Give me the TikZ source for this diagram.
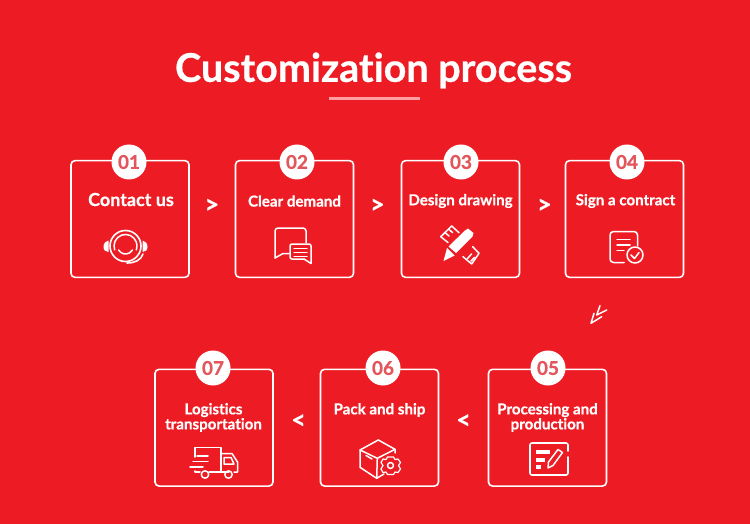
\documentclass[tikz,border=0pt]{standalone}
\usepackage{fontspec}
\setmainfont[Ligatures=NoCommon, BoldFeatures={FakeBold=0.6}]{Lato}
\usepackage{tikz}
\usetikzlibrary{arrows.meta, positioning}
\definecolor{bgred}{HTML}{ED1C24}
\definecolor{numred}{HTML}{E2565C}
\definecolor{barpink}{HTML}{FF9EA2}

\begin{document}
\begin{tikzpicture}[
    x=1pt, y=-1pt,
    font=\bfseries,
    stepbox/.style={rectangle, rounded corners=4pt, draw=white, line width=1.6pt,
      minimum width=118pt, minimum height=116.7pt, inner sep=0pt},
    numdot/.style={circle, fill=white, text=numred, minimum size=35pt, inner sep=0pt,
      font=\bfseries\fontsize{19}{19}\selectfont},
    steptext/.style={text=white, align=center, inner sep=0pt,
      font=\bfseries\fontsize{15.1}{15}\selectfont},
    chev/.style={text=white, inner sep=0pt, font=\bfseries\fontsize{25}{25}\selectfont},
    ico/.style={draw=white, line width=1.5pt, line join=round, line cap=round},
  ]
  \fill[bgred] (0,0) rectangle (750,524);

  \node[text=white, inner sep=0pt, font=\bfseries\fontsize{39.5}{39}\selectfont] (title) at (373.5,70.5) {Customization process};
  \fill[barpink] (329,97) rectangle (420,100);

  % upper row
  \node[stepbox] (box1) at (130,219) {};
  \node[stepbox] (box2) at (294.5,219) {};
  \node[stepbox] (box3) at (460.5,219) {};
  \node[stepbox] (box4) at (624.5,219) {};
  % lower row
  \node[stepbox] (box7) at (214,427.7) {};
  \node[stepbox] (box6) at (379.5,427.7) {};
  \node[stepbox] (box5) at (547.5,427.7) {};

  \node[numdot] (num1) at (129,162) {01};
  \node[numdot] (num2) at (297,162) {02};
  \node[numdot] (num3) at (461,162) {03};
  \node[numdot] (num4) at (627,162) {04};
  \node[numdot] (num5) at (548,368) {05};
  \node[numdot] (num6) at (383,368) {06};
  \node[numdot] (num7) at (213,368) {07};

  \node[steptext, font=\bfseries\fontsize{18}{18}\selectfont] (txt1) at (131,199.5) {Contact us};
  \node[steptext] (txt2) at (294.5,201) {Clear demand};
  \node[steptext] (txt3) at (460.5,201) {Design drawing};
  \node[steptext] (txt4) at (625.5,201) {Sign a contract};
  \node[steptext] (txt5) at (547.5,417.5) {Processing and\\production};
  \node[steptext] (txt6) at (379.5,410) {Pack and ship};
  \node[steptext] (txt7) at (213.5,417.5) {Logistics\\transportation};

  \node[chev] (gt1) at (212,206) {>};
  \node[chev] (gt2) at (377.5,206) {>};
  \node[chev] (gt3) at (544.5,206) {>};
  \node[chev] (lt1) at (298.5,421.5) {<};
  \node[chev] (lt2) at (463.5,421.5) {<};

  % double chevron
  \draw[ico] (601.7,316.7) -- (591,323.3) -- (594,313.3);
  \draw[ico] (606.7,310) -- (596.7,315) -- (600,305.7);

  % headset
  \draw[ico, line width=1.6pt] (125.5,246) circle (15.5);
  \draw[ico] (114.7,249.9) arc (160:380:11.5);
  \draw[ico] (118.6,250) arc (150:30:8);
  \fill[white] (103.5,247) .. controls (103.5,243) and (106,241) .. (108.5,240.5) -- (108.5,252) .. controls (106,252) and (103.5,250.5) .. (103.5,247) -- cycle;
  \fill[white] (147.5,247) .. controls (147.5,243) and (145,241) .. (142.5,240.5) -- (142.5,252) .. controls (145,252) and (147.5,250.5) .. (147.5,247) -- cycle;
  \draw[ico, line width=1.6pt] (143,254) .. controls (141,260) and (135,263) .. (127,263);

  % chat bubbles
  \draw[ico, rounded corners=3pt] (306,243) -- (306,228) -- (275,228) -- (275,258);
  \draw[ico] (275,258) -- (283,253.5) -- (289,253.5);
  \draw[ico, rounded corners=2pt] (311,252) -- (311,244) -- (290,244) -- (290,259) -- (304,259);
  \draw[ico] (304,259) -- (311,263.5) -- (311,252);
  \draw[ico] (294,248.5) -- (307,248.5) (294,252.5) -- (307,252.5) (294,256.5) -- (307,256.5);

  % pencil and rulers
  \fill[white] (448.5,246.5) -- (465,230.5) -- (468,228.5) -- (473.5,233) -- (472.5,236.5) -- (456,253) -- cycle;
  \fill[white] (447,248) -- (454.5,255.5) -- (443.5,261) -- cycle;
  \draw[ico] (448,242.5) -- (440.7,236.7) -- (451.7,226) -- (459,232.7);
  \draw[ico] (445.5,233) -- (449,236) (449,229.5) -- (452.5,232.5);
  \draw[ico] (472.7,246.7) -- (479,253.3) -- (471.7,264) -- (463,256.7);
  \draw[ico] (471.5,254) -- (467.5,258.5) (474.5,257.5) -- (471,261);

  % contract
  \draw[ico, rounded corners=3.5pt] (637.5,246) -- (637.5,231.5) -- (610,231.5) -- (610,262.5) -- (624,262.5);
  \draw[ico] (617,239.5) -- (630,239.5) (617,245) -- (630,245) (617,250.5) -- (624,250.5);
  \draw[ico] (635,255) circle (8);
  \draw[ico] (631,255) -- (634.5,258.5) -- (639,252.5);

  % screen with pen
  \draw[ico, line width=1.6pt, rounded corners=2pt] (568,457) -- (568,475) -- (530,475) -- (530,443) -- (568,443) -- (568,451);
  \fill[white] (536,450) rectangle (550,454);
  \fill[white] (536,457.5) rectangle (545,461.5);
  \fill[white] (536,465) rectangle (540.5,469);
  \draw[ico] (548,468) -- (548.5,462) -- (558,449.5) -- (562.5,452.5) -- (553,465.5) -- cycle;

  % parcel with gear
  \draw[ico] (378.3,440) -- (360,450) -- (360,467.3) -- (376.7,478.3) -- (384,474);
  \draw[ico] (378.3,440) -- (395,449.3) -- (395,453);
  \draw[ico] (360,450) -- (377.3,458.3) -- (395,449.3) (377.3,458.3) -- (376.7,478.3);
  \draw[ico] (366,455.5) -- (372,459);
  \draw[ico] (390.5,465.5) circle (3);
  \draw[ico, line width=1.2pt] (387.5,457) -- (393.5,457) -- (395,459.5) -- (398,459) -- (400.5,462.5) -- (398.5,465.5) -- (400.5,469) -- (398,472.5) -- (395,472) -- (393.5,474.5) -- (387.5,474.5) -- (386,472) -- (383,472.5) -- (381,469) -- (383,465.5) -- (381,462.5) -- (383,459) -- (386,459.5) -- cycle;

  % truck
  \draw[ico] (195,457) -- (195,447.5) -- (221,447.5) -- (221,472) -- (229,472);
  \draw[ico] (221,453.5) -- (232,453.5) -- (237.5,462) -- (237.5,472) -- (234,472);
  \draw[ico] (224,457.5) -- (231,457.5) -- (234,464) -- (224,464) -- cycle;
  \draw[ico] (209,472) -- (221,472);
  \draw[ico] (195,471) -- (195,472) -- (200,472);
  \draw[ico] (197,456) -- (208,456) (193,461.5) -- (208,461.5) (190,467) -- (203,467);
  \draw[ico] (205,474.5) circle (3.7);
  \draw[ico] (228.5,474.5) circle (3.7);
\end{tikzpicture}
\end{document}
